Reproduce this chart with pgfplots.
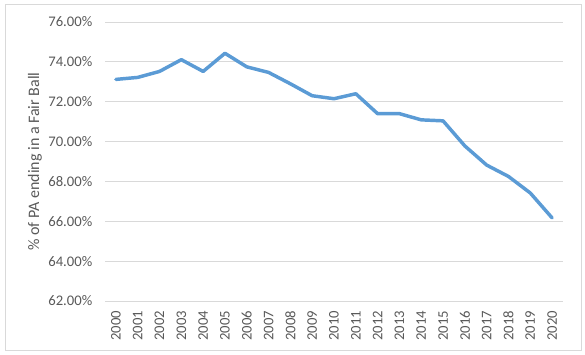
\documentclass[border=0pt]{standalone}
\usepackage{pgfplots}
\pgfplotsset{compat=1.18}
\usepackage{fontspec}
\setmainfont{Carlito}
\definecolor{txtgray}{HTML}{595959}
\definecolor{gridgray}{HTML}{D9D9D9}
\definecolor{linblue}{HTML}{5B9BD5}
\begin{document}
\begin{tikzpicture}
\path[use as bounding box] (0pt,0pt) rectangle (438.75pt,265.5pt);
\draw[gridgray, line width=0.75pt] (3.75pt,3pt) rectangle (435.75pt,261.75pt);
\begin{axis}[
  at={(78.75pt,39.75pt)}, anchor=south west,
  scale only axis, width=343.5pt, height=209.25pt,
  xmin=-0.5, xmax=20.5, ymin=62, ymax=76,
  xtick={0,...,20},
  xticklabels={2000,2001,2002,2003,2004,2005,2006,2007,2008,2009,2010,2011,2012,2013,2014,2015,2016,2017,2018,2019,2020},
  ytick={62,64,...,76},
  yticklabel={\pgfmathprintnumber[fixed,fixed zerofill,precision=2]{\tick}\%},
  /pgf/number format/assume math mode=true,
  axis line style={draw=none},
  major tick length=0pt,
  ymajorgrids, grid style={gridgray, line width=0.75pt},
  tick label style={font=\fontsize{11}{13}\selectfont, text=txtgray},
  x tick label style={rotate=90, anchor=east, yshift=0pt, xshift=-4pt},
  y tick label style={xshift=-6pt},
  ylabel={\% of PA ending in a Fair Ball},
  ylabel style={font=\fontsize{12}{14}\selectfont, text=txtgray, yshift=-2pt},
  clip=false,
]
\addplot[linblue, line width=2.6pt, line join=round, line cap=round] coordinates {
(0,73.12) (1,73.22) (2,73.52) (3,74.11) (4,73.52) (5,74.43) (6,73.75) (7,73.47)
(8,72.90) (9,72.30) (10,72.15) (11,72.40) (12,71.40) (13,71.40) (14,71.09)
(15,71.04) (16,69.78) (17,68.82) (18,68.25) (19,67.42) (20,66.17)
};
\end{axis}
\end{tikzpicture}
\end{document}
